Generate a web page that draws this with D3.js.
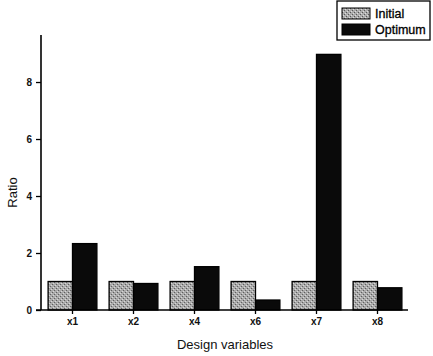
<!DOCTYPE html>
<html>
<head>
<meta charset="UTF-8">
<style>
  body { margin: 0; background: #fff; }
  text { font-family: "Liberation Sans", Arial, sans-serif; }
</style>
</head>
<body>
<svg width="433" height="356"></svg>
<script src="https://d3js.org/d3.v7.min.js"></script>
<script>
  const categories = ["x1", "x2", "x4", "x6", "x7", "x8"];
  const initial = [1, 1, 1, 1, 1, 1];
  const optimum = [2.33, 0.93, 1.52, 0.35, 8.97, 0.78];
  const yTicks = [0, 2, 4, 6, 8];
  const seriesNames = ["Initial", "Optimum"];

  const svg = d3.select("svg");
  const plotL = 42, plotR = 408, plotT = 35, plotB = 310;

  // stippled grey fill for the Initial bars
  const defs = svg.append("defs");
  const pat = defs.append("pattern")
    .attr("id", "stipple")
    .attr("width", 4).attr("height", 4)
    .attr("patternUnits", "userSpaceOnUse");
  pat.append("rect").attr("width", 4).attr("height", 4).attr("fill", "#ababab");
  pat.append("rect").attr("x", 0).attr("y", 0).attr("width", 1).attr("height", 1).attr("fill", "#555");
  pat.append("rect").attr("x", 2).attr("y", 2).attr("width", 1).attr("height", 1).attr("fill", "#5a5a5a");
  pat.append("rect").attr("x", 3).attr("y", 1).attr("width", 1).attr("height", 1).attr("fill", "#ddd");
  pat.append("rect").attr("x", 1).attr("y", 3).attr("width", 1).attr("height", 1).attr("fill", "#ddd");

  const x = d3.scaleBand().domain(categories).range([plotL, plotR]).paddingInner(0.2).paddingOuter(0.1);
  const sub = d3.scaleBand().domain(seriesNames).range([0, x.bandwidth()]);
  const y = d3.scaleLinear().domain([0, 9.65]).range([plotB, plotT]);

  const rows = categories.map((c, i) => ({ c, vals: [initial[i], optimum[i]] }));

  const g = svg.append("g");
  g.selectAll("g.grp")
    .data(rows)
    .join("g")
    .attr("transform", d => `translate(${x(d.c)},0)`)
    .selectAll("rect")
    .data(d => d.vals.map((v, j) => ({ v, s: seriesNames[j] })))
    .join("rect")
    .attr("x", d => sub(d.s))
    .attr("y", d => y(d.v))
    .attr("width", sub.bandwidth())
    .attr("height", d => plotB - y(d.v))
    .attr("fill", d => d.s === "Initial" ? "url(#stipple)" : "#0a0a0a")
    .attr("stroke", "#000")
    .attr("stroke-width", 1.3);

  // axes
  const yAxis = svg.append("g")
    .attr("transform", `translate(${plotL - 1},0)`)
    .call(d3.axisLeft(y).tickValues(yTicks).tickSize(5).tickPadding(4));
  yAxis.select(".domain").attr("d", `M0,${plotB}V${plotT}`).attr("stroke-width", 1.6);
  yAxis.selectAll("text").attr("font-size", 10).attr("font-weight", "bold").attr("fill", "#111");
  yAxis.selectAll(".tick line").attr("stroke-width", 1.3);

  const xAxis = svg.append("g")
    .attr("transform", `translate(0,${plotB})`)
    .call(d3.axisBottom(x).tickSize(4).tickPadding(4));
  xAxis.select(".domain").attr("d", `M36,0H${plotR}`).attr("stroke-width", 1.6);
  xAxis.selectAll("text").attr("font-size", 10).attr("font-weight", "bold").attr("fill", "#111");
  xAxis.selectAll(".tick line").attr("stroke-width", 1.3);

  // axis titles
  svg.append("text")
    .attr("transform", `translate(17,${(plotT + plotB) / 2 + 20}) rotate(-90)`)
    .attr("text-anchor", "middle")
    .attr("font-size", 13)
    .attr("fill", "#111")
    .text("Ratio");

  svg.append("text")
    .attr("x", 225).attr("y", 349)
    .attr("text-anchor", "middle")
    .attr("font-size", 13)
    .attr("fill", "#111")
    .text("Design variables");

  // legend
  const lg = svg.append("g").attr("transform", "translate(337,1)");
  lg.append("rect").attr("width", 93).attr("height", 39)
    .attr("fill", "#fff").attr("stroke", "#000").attr("stroke-width", 1.3);
  const items = lg.selectAll("g.item").data(seriesNames).join("g")
    .attr("transform", (d, i) => `translate(5,${7 + i * 16})`);
  items.append("rect").attr("width", 28).attr("height", 11)
    .attr("fill", d => d === "Initial" ? "url(#stipple)" : "#0a0a0a")
    .attr("stroke", "#000");
  items.append("text").attr("x", 33).attr("y", 10)
    .attr("font-size", 12.5).attr("fill", "#000")
    .attr("stroke", "#000").attr("stroke-width", 0.3)
    .text(d => d);
</script>
</body>
</html>
